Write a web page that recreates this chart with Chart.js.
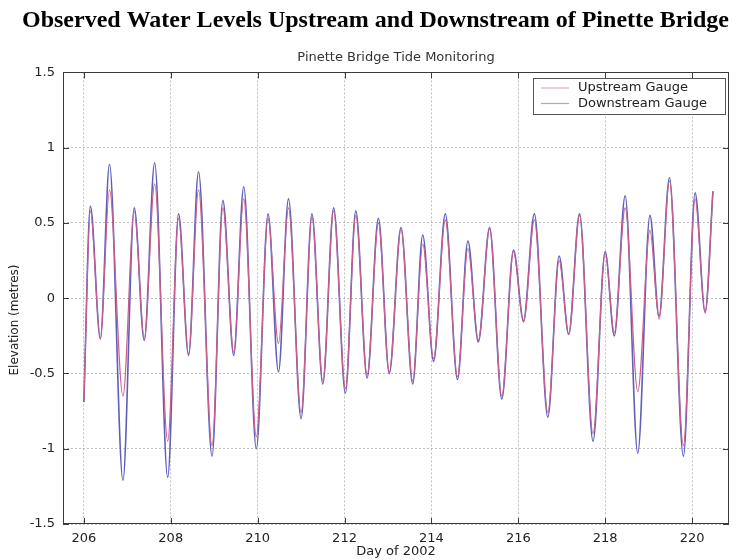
<!DOCTYPE html>
<html><head><meta charset="utf-8">
<script src="https://cdn.jsdelivr.net/npm/chart.js@4"></script>
<style>html,body{margin:0;padding:0;background:#fff;}</style>
</head><body>
<canvas id="c" width="739" height="560"></canvas>
<script>
// ---- data (Day of 2002, elevation in metres) ----
const days = [206.00,206.15,206.38,206.59,206.90,207.16,207.39,207.63,207.93,208.18,
  208.41,208.64,208.95,209.20,209.45,209.68,209.97,210.24,210.48,210.71,
  211.00,211.25,211.50,211.75,212.02,212.26,212.52,212.78,213.03,213.30,
  213.57,213.80,214.05,214.32,214.60,214.84,215.08,215.34,215.62,215.89,
  216.12,216.37,216.68,216.94,217.16,217.41,217.72,218.00,218.21,218.46,
  218.75,219.03,219.24,219.48,219.80,220.07,220.30,220.48];
const downstream = [-0.69,0.61,-0.27,0.89,-1.21,0.60,-0.28,0.90,-1.19,0.56,
  -0.38,0.84,-1.05,0.65,-0.38,0.74,-1.00,0.56,-0.49,0.66,
  -0.80,0.56,-0.57,0.60,-0.63,0.58,-0.53,0.53,-0.50,0.47,
  -0.57,0.42,-0.42,0.56,-0.54,0.38,-0.29,0.47,-0.67,0.32,
  -0.15,0.56,-0.79,0.28,-0.24,0.56,-0.95,0.31,-0.25,0.68,
  -1.03,0.55,-0.12,0.80,-1.05,0.70,-0.09,0.71];
const upstream = [-0.69,0.58,-0.27,0.72,-0.65,0.58,-0.27,0.76,-0.95,0.53,
  -0.37,0.72,-0.98,0.60,-0.36,0.66,-0.92,0.53,-0.30,0.60,
  -0.76,0.54,-0.55,0.58,-0.60,0.55,-0.51,0.50,-0.49,0.46,
  -0.55,0.36,-0.40,0.52,-0.52,0.33,-0.28,0.46,-0.65,0.31,
  -0.16,0.52,-0.76,0.25,-0.24,0.55,-0.90,0.30,-0.23,0.60,
  -0.62,0.45,-0.14,0.78,-0.98,0.66,-0.10,0.71];
const xTicks = [206,208,210,212,214,216,218,220];
const yTicks = [-1.5,-1,-0.5,0,0.5,1,1.5];
const seriesNames = ['Upstream Gauge','Downstream Gauge'];
const chartTitle = 'Observed Water Levels Upstream and Downstream of Pinette Bridge';
const chartSubtitle = 'Pinette Bridge Tide Monitoring';
const xTitle = 'Day of 2002';
const yTitle = 'Elevation (metres)';

const upColor = 'rgb(200,95,140)';
const downColor = 'rgb(95,95,185)';
const sansFont = '"DejaVu Sans", sans-serif';

function pts(ys){ return days.map((d,i)=>({x:d,y:ys[i]})); }

const framePlugin = {
  id:'frame',
  afterDraw(chart){
    const ctx = chart.ctx, a = chart.chartArea;
    const xs = chart.scales.x, ys = chart.scales.y;
    ctx.save();
    // box
    ctx.strokeStyle = '#3a3a3a'; ctx.lineWidth = 1;
    ctx.strokeRect(Math.round(a.left)+0.5, Math.round(a.top)+0.5,
      Math.round(a.right-a.left)-1, Math.round(a.bottom-a.top)-1);
    // inward ticks
    ctx.beginPath();
    xTicks.forEach(v=>{ const px = Math.round(xs.getPixelForValue(v))+0.5;
      ctx.moveTo(px,a.bottom); ctx.lineTo(px,a.bottom-6);
      ctx.moveTo(px,a.top); ctx.lineTo(px,a.top+6); });
    yTicks.forEach(v=>{ const py = Math.round(ys.getPixelForValue(v))+0.5;
      ctx.moveTo(a.left,py); ctx.lineTo(a.left+6,py);
      ctx.moveTo(a.right,py); ctx.lineTo(a.right-6,py); });
    ctx.stroke();
    // y axis title
    ctx.fillStyle = '#222'; ctx.font = '12px ' + sansFont;
    ctx.textAlign = 'center'; ctx.textBaseline = 'middle';
    ctx.translate(15, 320); ctx.rotate(-Math.PI/2);
    ctx.fillText(yTitle, 0, 0);
    ctx.restore();
    // legend
    ctx.save();
    const lx = 533, ly = 78, lw = 192, lh = 36;
    ctx.fillStyle = '#fff'; ctx.fillRect(lx, ly, lw, lh);
    ctx.strokeStyle = '#555'; ctx.lineWidth = 1;
    ctx.strokeRect(lx+0.5, ly+0.5, lw, lh);
    ctx.font = '13px ' + sansFont; ctx.textBaseline = 'middle'; ctx.textAlign = 'left';
    chart.data.datasets.forEach((ds,i)=>{
      const y = ly + 10 + i*15.5;
      ctx.strokeStyle = ds.borderColor; ctx.globalAlpha = 0.55; ctx.lineWidth = 1.2;
      ctx.beginPath(); ctx.moveTo(lx+8, y); ctx.lineTo(lx+36, y); ctx.stroke();
      ctx.globalAlpha = 1; ctx.fillStyle = '#222';
      ctx.fillText(ds.label, lx+45, y);
    });
    ctx.restore();
  }
};

new Chart(document.getElementById('c'), {
  type:'line',
  data:{ datasets:[
    {label:seriesNames[0], data:pts(upstream), borderColor:upColor, borderWidth:1.2,
     pointRadius:0, fill:false, cubicInterpolationMode:'monotone'},
    {label:seriesNames[1], data:pts(downstream), borderColor:downColor, borderWidth:1.6,
     pointRadius:0, fill:false, cubicInterpolationMode:'monotone'}
  ]},
  options:{
    responsive:false, animation:false, devicePixelRatio:1,
    layout:{padding:{left:0,right:10,top:0,bottom:0}},
    plugins:{
      legend:{display:false}, tooltip:{enabled:false},
      title:{display:true, text:chartTitle, align:'end', color:'#000',
        font:{family:'"Liberation Serif", serif', size:24, weight:'bold'},
        padding:{top:6,bottom:15}},
      subtitle:{display:true, text:chartSubtitle, fullSize:false, color:'#333',
        font:{family:sansFont, size:13}, padding:{top:0,bottom:7}}
    },
    scales:{
      x:{type:'linear', min:205.52, max:220.85,
        afterBuildTicks:s=>{ s.ticks = xTicks.map(v=>({value:v})); },
        afterFit:s=>{ s.height = 36; },
        ticks:{color:'#222', font:{family:sansFont,size:13}, padding:7, maxRotation:0,
          callback:v=>String(v)},
        grid:{color:'rgba(150,150,150,0.6)', drawTicks:false},
        border:{display:false, dash:[2,2]},
        title:{display:true, text:xTitle, color:'#222', font:{family:sansFont,size:13},
          padding:{top:0,bottom:1}}
      },
      y:{type:'linear', min:-1.5, max:1.5,
        afterBuildTicks:s=>{ s.ticks = yTicks.map(v=>({value:v})); },
        afterFit:s=>{ s.width = 63; },
        ticks:{color:'#222', font:{family:sansFont,size:13}, padding:8,
          callback:v=>String(v)},
        grid:{color:'rgba(150,150,150,0.6)', drawTicks:false},
        border:{display:false, dash:[2,2]}
      }
    }
  },
  plugins:[framePlugin]
});
</script>
</body></html>
